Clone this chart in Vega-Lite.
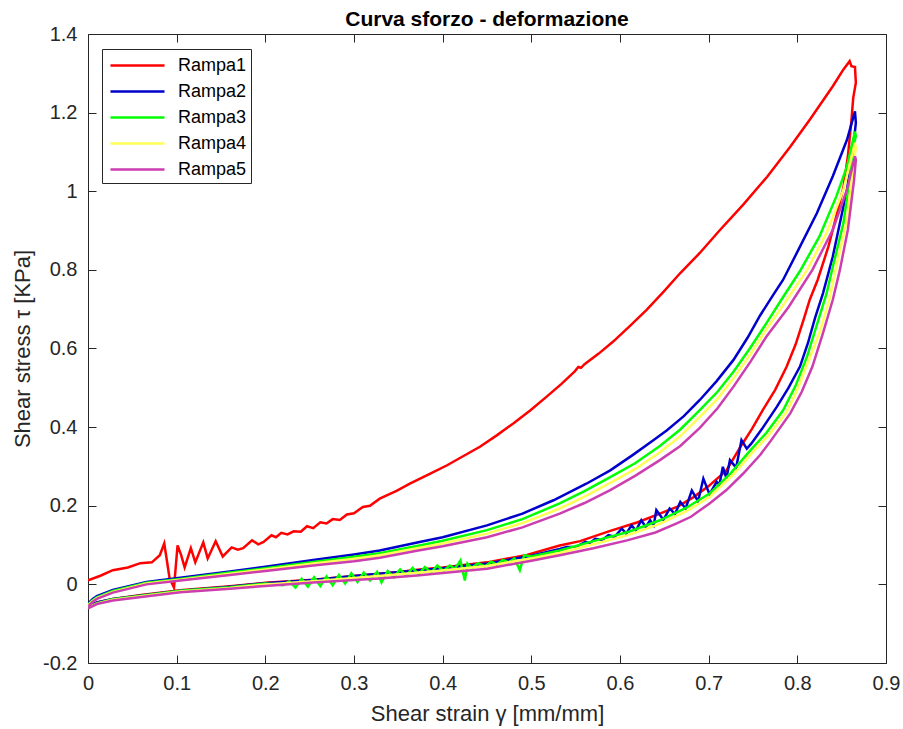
{
  "$schema": "https://vega.github.io/schema/vega-lite/v6.json",
  "width": 798,
  "height": 629,
  "autosize": {"type": "none"},
  "padding": {"left": 88, "top": 34, "right": 17, "bottom": 66},
  "background": "white",
  "title": {"text": "Curva sforzo - deformazione", "fontSize": 21, "fontWeight": "bold", "font": "Liberation Sans", "color": "#000000", "anchor": "middle", "offset": -6},
  "config": {
    "view": {"stroke": null},
    "font": "Liberation Sans",
    "axis": {"grid": false, "domainColor": "#262626", "domainWidth": 1, "tickColor": "#262626", "tickWidth": 1, "labelColor": "#262626", "titleColor": "#262626", "labelFont": "Liberation Sans", "titleFont": "Liberation Sans", "titleFontWeight": "normal"}
  },
  "datasets": {
    "d": [
      {"s":"Rampa1","x":0,"y":0.010},{"s":"Rampa1","x":0.014,"y":0.022},{"s":"Rampa1","x":0.028,"y":0.036},{"s":"Rampa1","x":0.045,"y":0.043},{"s":"Rampa1","x":0.059,"y":0.054},{"s":"Rampa1","x":0.072,"y":0.056},{"s":"Rampa1","x":0.081,"y":0.074},{"s":"Rampa1","x":0.086,"y":0.104},{"s":"Rampa1","x":0.089,"y":0.060},{"s":"Rampa1","x":0.092,"y":0.015},{"s":"Rampa1","x":0.097,"y":-0.008},{"s":"Rampa1","x":0.101,"y":0.099},{"s":"Rampa1","x":0.105,"y":0.075},{"s":"Rampa1","x":0.109,"y":0.043},{"s":"Rampa1","x":0.116,"y":0.092},{"s":"Rampa1","x":0.121,"y":0.056},{"s":"Rampa1","x":0.130,"y":0.107},{"s":"Rampa1","x":0.135,"y":0.066},{"s":"Rampa1","x":0.144,"y":0.110},{"s":"Rampa1","x":0.152,"y":0.071},{"s":"Rampa1","x":0.162,"y":0.094},{"s":"Rampa1","x":0.169,"y":0.088},{"s":"Rampa1","x":0.175,"y":0.092},{"s":"Rampa1","x":0.185,"y":0.112},{"s":"Rampa1","x":0.192,"y":0.102},{"s":"Rampa1","x":0.198,"y":0.108},{"s":"Rampa1","x":0.207,"y":0.125},{"s":"Rampa1","x":0.212,"y":0.120},{"s":"Rampa1","x":0.218,"y":0.131},{"s":"Rampa1","x":0.225,"y":0.127},{"s":"Rampa1","x":0.232,"y":0.135},{"s":"Rampa1","x":0.240,"y":0.134},{"s":"Rampa1","x":0.247,"y":0.148},{"s":"Rampa1","x":0.254,"y":0.143},{"s":"Rampa1","x":0.262,"y":0.158},{"s":"Rampa1","x":0.269,"y":0.155},{"s":"Rampa1","x":0.276,"y":0.166},{"s":"Rampa1","x":0.284,"y":0.164},{"s":"Rampa1","x":0.292,"y":0.178},{"s":"Rampa1","x":0.300,"y":0.181},{"s":"Rampa1","x":0.310,"y":0.197},{"s":"Rampa1","x":0.318,"y":0.200},{"s":"Rampa1","x":0.329,"y":0.218},{"s":"Rampa1","x":0.348,"y":0.238},{"s":"Rampa1","x":0.363,"y":0.256},{"s":"Rampa1","x":0.386,"y":0.282},{"s":"Rampa1","x":0.405,"y":0.303},{"s":"Rampa1","x":0.423,"y":0.326},{"s":"Rampa1","x":0.442,"y":0.350},{"s":"Rampa1","x":0.461,"y":0.379},{"s":"Rampa1","x":0.480,"y":0.410},{"s":"Rampa1","x":0.499,"y":0.443},{"s":"Rampa1","x":0.517,"y":0.477},{"s":"Rampa1","x":0.534,"y":0.510},{"s":"Rampa1","x":0.549,"y":0.542},{"s":"Rampa1","x":0.553,"y":0.553},{"s":"Rampa1","x":0.556,"y":0.551},{"s":"Rampa1","x":0.560,"y":0.560},{"s":"Rampa1","x":0.576,"y":0.587},{"s":"Rampa1","x":0.592,"y":0.617},{"s":"Rampa1","x":0.611,"y":0.657},{"s":"Rampa1","x":0.630,"y":0.698},{"s":"Rampa1","x":0.649,"y":0.744},{"s":"Rampa1","x":0.668,"y":0.792},{"s":"Rampa1","x":0.690,"y":0.843},{"s":"Rampa1","x":0.713,"y":0.902},{"s":"Rampa1","x":0.739,"y":0.966},{"s":"Rampa1","x":0.766,"y":1.037},{"s":"Rampa1","x":0.792,"y":1.113},{"s":"Rampa1","x":0.814,"y":1.182},{"s":"Rampa1","x":0.840,"y":1.267},{"s":"Rampa1","x":0.852,"y":1.310},{"s":"Rampa1","x":0.859,"y":1.331},{"s":"Rampa1","x":0.861,"y":1.318},{"s":"Rampa1","x":0.865,"y":1.316},{"s":"Rampa1","x":0.866,"y":1.276},{"s":"Rampa1","x":0.863,"y":1.237},{"s":"Rampa1","x":0.861,"y":1.180},{"s":"Rampa1","x":0.857,"y":1.089},{"s":"Rampa1","x":0.852,"y":1.010},{"s":"Rampa1","x":0.845,"y":0.945},{"s":"Rampa1","x":0.835,"y":0.859},{"s":"Rampa1","x":0.823,"y":0.775},{"s":"Rampa1","x":0.814,"y":0.724},{"s":"Rampa1","x":0.807,"y":0.673},{"s":"Rampa1","x":0.798,"y":0.610},{"s":"Rampa1","x":0.788,"y":0.554},{"s":"Rampa1","x":0.775,"y":0.495},{"s":"Rampa1","x":0.761,"y":0.443},{"s":"Rampa1","x":0.749,"y":0.396},{"s":"Rampa1","x":0.737,"y":0.354},{"s":"Rampa1","x":0.720,"y":0.290},{"s":"Rampa1","x":0.700,"y":0.250},{"s":"Rampa1","x":0.683,"y":0.222},{"s":"Rampa1","x":0.665,"y":0.198},{"s":"Rampa1","x":0.645,"y":0.180},{"s":"Rampa1","x":0.620,"y":0.158},{"s":"Rampa1","x":0.589,"y":0.136},{"s":"Rampa1","x":0.555,"y":0.110},{"s":"Rampa1","x":0.532,"y":0.099},{"s":"Rampa1","x":0.495,"y":0.075},{"s":"Rampa1","x":0.450,"y":0.056},{"s":"Rampa1","x":0.400,"y":0.043},{"s":"Rampa1","x":0.374,"y":0.038},{"s":"Rampa1","x":0.348,"y":0.031},{"s":"Rampa1","x":0.300,"y":0.021},{"s":"Rampa1","x":0.254,"y":0.012},{"s":"Rampa1","x":0.200,"y":0.004},{"s":"Rampa1","x":0.160,"y":-0.005},{"s":"Rampa1","x":0.104,"y":-0.015},{"s":"Rampa1","x":0.060,"y":-0.027},{"s":"Rampa1","x":0.028,"y":-0.037},{"s":"Rampa1","x":0.010,"y":-0.046},{"s":"Rampa1","x":0,"y":-0.056},

      {"s":"Rampa2","x":0,"y":-0.049},{"s":"Rampa2","x":0.005,"y":-0.038},{"s":"Rampa2","x":0.010,"y":-0.030},{"s":"Rampa2","x":0.028,"y":-0.014},{"s":"Rampa2","x":0.066,"y":0.006},{"s":"Rampa2","x":0.104,"y":0.017},{"s":"Rampa2","x":0.160,"y":0.033},{"s":"Rampa2","x":0.200,"y":0.045},{"s":"Rampa2","x":0.254,"y":0.062},{"s":"Rampa2","x":0.300,"y":0.076},{"s":"Rampa2","x":0.329,"y":0.086},{"s":"Rampa2","x":0.374,"y":0.108},{"s":"Rampa2","x":0.400,"y":0.120},{"s":"Rampa2","x":0.450,"y":0.150},{"s":"Rampa2","x":0.490,"y":0.180},{"s":"Rampa2","x":0.525,"y":0.214},{"s":"Rampa2","x":0.562,"y":0.256},{"s":"Rampa2","x":0.589,"y":0.290},{"s":"Rampa2","x":0.615,"y":0.330},{"s":"Rampa2","x":0.638,"y":0.367},{"s":"Rampa2","x":0.653,"y":0.392},{"s":"Rampa2","x":0.672,"y":0.428},{"s":"Rampa2","x":0.690,"y":0.469},{"s":"Rampa2","x":0.709,"y":0.517},{"s":"Rampa2","x":0.728,"y":0.571},{"s":"Rampa2","x":0.744,"y":0.628},{"s":"Rampa2","x":0.758,"y":0.684},{"s":"Rampa2","x":0.771,"y":0.730},{"s":"Rampa2","x":0.784,"y":0.775},{"s":"Rampa2","x":0.803,"y":0.859},{"s":"Rampa2","x":0.822,"y":0.944},{"s":"Rampa2","x":0.840,"y":1.038},{"s":"Rampa2","x":0.856,"y":1.131},{"s":"Rampa2","x":0.865,"y":1.203},{"s":"Rampa2","x":0.866,"y":1.174},{"s":"Rampa2","x":0.862,"y":1.090},{"s":"Rampa2","x":0.856,"y":1.004},{"s":"Rampa2","x":0.848,"y":0.919},{"s":"Rampa2","x":0.840,"y":0.834},{"s":"Rampa2","x":0.829,"y":0.741},{"s":"Rampa2","x":0.820,"y":0.678},{"s":"Rampa2","x":0.812,"y":0.614},{"s":"Rampa2","x":0.803,"y":0.554},{"s":"Rampa2","x":0.790,"y":0.500},{"s":"Rampa2","x":0.777,"y":0.452},{"s":"Rampa2","x":0.760,"y":0.395},{"s":"Rampa2","x":0.748,"y":0.358},{"s":"Rampa2","x":0.743,"y":0.345},{"s":"Rampa2","x":0.737,"y":0.367},{"s":"Rampa2","x":0.731,"y":0.297},{"s":"Rampa2","x":0.724,"y":0.316},{"s":"Rampa2","x":0.720,"y":0.270},{"s":"Rampa2","x":0.716,"y":0.299},{"s":"Rampa2","x":0.712,"y":0.252},{"s":"Rampa2","x":0.709,"y":0.261},{"s":"Rampa2","x":0.701,"y":0.229},{"s":"Rampa2","x":0.694,"y":0.269},{"s":"Rampa2","x":0.688,"y":0.211},{"s":"Rampa2","x":0.681,"y":0.239},{"s":"Rampa2","x":0.674,"y":0.193},{"s":"Rampa2","x":0.668,"y":0.210},{"s":"Rampa2","x":0.662,"y":0.179},{"s":"Rampa2","x":0.656,"y":0.193},{"s":"Rampa2","x":0.649,"y":0.164},{"s":"Rampa2","x":0.641,"y":0.189},{"s":"Rampa2","x":0.638,"y":0.150},{"s":"Rampa2","x":0.634,"y":0.163},{"s":"Rampa2","x":0.629,"y":0.146},{"s":"Rampa2","x":0.624,"y":0.163},{"s":"Rampa2","x":0.618,"y":0.137},{"s":"Rampa2","x":0.613,"y":0.150},{"s":"Rampa2","x":0.607,"y":0.129},{"s":"Rampa2","x":0.602,"y":0.142},{"s":"Rampa2","x":0.594,"y":0.121},{"s":"Rampa2","x":0.587,"y":0.125},{"s":"Rampa2","x":0.580,"y":0.113},{"s":"Rampa2","x":0.572,"y":0.116},{"s":"Rampa2","x":0.566,"y":0.105},{"s":"Rampa2","x":0.561,"y":0.108},{"s":"Rampa2","x":0.551,"y":0.096},{"s":"Rampa2","x":0.540,"y":0.095},{"s":"Rampa2","x":0.532,"y":0.090},{"s":"Rampa2","x":0.500,"y":0.073},{"s":"Rampa2","x":0.450,"y":0.053},{"s":"Rampa2","x":0.400,"y":0.041},{"s":"Rampa2","x":0.348,"y":0.031},{"s":"Rampa2","x":0.300,"y":0.021},{"s":"Rampa2","x":0.254,"y":0.011},{"s":"Rampa2","x":0.200,"y":0.003},{"s":"Rampa2","x":0.160,"y":-0.006},{"s":"Rampa2","x":0.104,"y":-0.016},{"s":"Rampa2","x":0.060,"y":-0.028},{"s":"Rampa2","x":0.028,"y":-0.037},{"s":"Rampa2","x":0.010,"y":-0.046},{"s":"Rampa2","x":0,"y":-0.057},

      {"s":"Rampa3","x":0,"y":-0.052},{"s":"Rampa3","x":0.005,"y":-0.041},{"s":"Rampa3","x":0.010,"y":-0.033},{"s":"Rampa3","x":0.028,"y":-0.017},{"s":"Rampa3","x":0.066,"y":0.004},{"s":"Rampa3","x":0.104,"y":0.014},{"s":"Rampa3","x":0.160,"y":0.030},{"s":"Rampa3","x":0.200,"y":0.041},{"s":"Rampa3","x":0.254,"y":0.057},{"s":"Rampa3","x":0.300,"y":0.070},{"s":"Rampa3","x":0.329,"y":0.079},{"s":"Rampa3","x":0.374,"y":0.099},{"s":"Rampa3","x":0.400,"y":0.111},{"s":"Rampa3","x":0.450,"y":0.138},{"s":"Rampa3","x":0.490,"y":0.166},{"s":"Rampa3","x":0.532,"y":0.206},{"s":"Rampa3","x":0.560,"y":0.237},{"s":"Rampa3","x":0.589,"y":0.273},{"s":"Rampa3","x":0.617,"y":0.308},{"s":"Rampa3","x":0.645,"y":0.352},{"s":"Rampa3","x":0.668,"y":0.394},{"s":"Rampa3","x":0.690,"y":0.443},{"s":"Rampa3","x":0.710,"y":0.490},{"s":"Rampa3","x":0.728,"y":0.541},{"s":"Rampa3","x":0.747,"y":0.602},{"s":"Rampa3","x":0.765,"y":0.664},{"s":"Rampa3","x":0.782,"y":0.724},{"s":"Rampa3","x":0.803,"y":0.797},{"s":"Rampa3","x":0.825,"y":0.885},{"s":"Rampa3","x":0.844,"y":0.987},{"s":"Rampa3","x":0.856,"y":1.063},{"s":"Rampa3","x":0.865,"y":1.152},{"s":"Rampa3","x":0.866,"y":1.140},{"s":"Rampa3","x":0.863,"y":1.114},{"s":"Rampa3","x":0.859,"y":1.029},{"s":"Rampa3","x":0.852,"y":0.919},{"s":"Rampa3","x":0.840,"y":0.808},{"s":"Rampa3","x":0.833,"y":0.740},{"s":"Rampa3","x":0.822,"y":0.660},{"s":"Rampa3","x":0.811,"y":0.580},{"s":"Rampa3","x":0.798,"y":0.505},{"s":"Rampa3","x":0.784,"y":0.443},{"s":"Rampa3","x":0.765,"y":0.385},{"s":"Rampa3","x":0.747,"y":0.341},{"s":"Rampa3","x":0.725,"y":0.283},{"s":"Rampa3","x":0.701,"y":0.231},{"s":"Rampa3","x":0.675,"y":0.195},{"s":"Rampa3","x":0.645,"y":0.163},{"s":"Rampa3","x":0.610,"y":0.134},{"s":"Rampa3","x":0.570,"y":0.110},{"s":"Rampa3","x":0.532,"y":0.086},{"s":"Rampa3","x":0.500,"y":0.071},{"s":"Rampa3","x":0.492,"y":0.074},{"s":"Rampa3","x":0.487,"y":0.036},{"s":"Rampa3","x":0.481,"y":0.066},{"s":"Rampa3","x":0.475,"y":0.056},{"s":"Rampa3","x":0.468,"y":0.062},{"s":"Rampa3","x":0.461,"y":0.050},{"s":"Rampa3","x":0.455,"y":0.058},{"s":"Rampa3","x":0.448,"y":0.046},{"s":"Rampa3","x":0.440,"y":0.054},{"s":"Rampa3","x":0.433,"y":0.042},{"s":"Rampa3","x":0.428,"y":0.053},{"s":"Rampa3","x":0.425,"y":0.010},{"s":"Rampa3","x":0.420,"y":0.061},{"s":"Rampa3","x":0.414,"y":0.040},{"s":"Rampa3","x":0.408,"y":0.048},{"s":"Rampa3","x":0.401,"y":0.034},{"s":"Rampa3","x":0.394,"y":0.048},{"s":"Rampa3","x":0.387,"y":0.030},{"s":"Rampa3","x":0.380,"y":0.044},{"s":"Rampa3","x":0.373,"y":0.026},{"s":"Rampa3","x":0.366,"y":0.042},{"s":"Rampa3","x":0.359,"y":0.022},{"s":"Rampa3","x":0.352,"y":0.038},{"s":"Rampa3","x":0.345,"y":0.018},{"s":"Rampa3","x":0.338,"y":0.034},{"s":"Rampa3","x":0.331,"y":0.005},{"s":"Rampa3","x":0.326,"y":0.032},{"s":"Rampa3","x":0.318,"y":0.010},{"s":"Rampa3","x":0.311,"y":0.030},{"s":"Rampa3","x":0.304,"y":0.006},{"s":"Rampa3","x":0.297,"y":0.028},{"s":"Rampa3","x":0.290,"y":0.002},{"s":"Rampa3","x":0.283,"y":0.024},{"s":"Rampa3","x":0.276,"y":-0.002},{"s":"Rampa3","x":0.269,"y":0.020},{"s":"Rampa3","x":0.262,"y":-0.004},{"s":"Rampa3","x":0.255,"y":0.018},{"s":"Rampa3","x":0.248,"y":-0.006},{"s":"Rampa3","x":0.241,"y":0.014},{"s":"Rampa3","x":0.234,"y":-0.008},{"s":"Rampa3","x":0.227,"y":0.008},{"s":"Rampa3","x":0.220,"y":-0.002},{"s":"Rampa3","x":0.200,"y":0.002},{"s":"Rampa3","x":0.160,"y":-0.007},{"s":"Rampa3","x":0.104,"y":-0.016},{"s":"Rampa3","x":0.060,"y":-0.029},{"s":"Rampa3","x":0.028,"y":-0.038},{"s":"Rampa3","x":0.010,"y":-0.048},{"s":"Rampa3","x":0,"y":-0.059},

      {"s":"Rampa4","x":0,"y":-0.054},{"s":"Rampa4","x":0.005,"y":-0.043},{"s":"Rampa4","x":0.010,"y":-0.035},{"s":"Rampa4","x":0.028,"y":-0.019},{"s":"Rampa4","x":0.066,"y":0.002},{"s":"Rampa4","x":0.104,"y":0.012},{"s":"Rampa4","x":0.160,"y":0.027},{"s":"Rampa4","x":0.200,"y":0.038},{"s":"Rampa4","x":0.254,"y":0.053},{"s":"Rampa4","x":0.300,"y":0.065},{"s":"Rampa4","x":0.329,"y":0.074},{"s":"Rampa4","x":0.374,"y":0.093},{"s":"Rampa4","x":0.400,"y":0.104},{"s":"Rampa4","x":0.450,"y":0.129},{"s":"Rampa4","x":0.490,"y":0.156},{"s":"Rampa4","x":0.532,"y":0.193},{"s":"Rampa4","x":0.560,"y":0.223},{"s":"Rampa4","x":0.589,"y":0.258},{"s":"Rampa4","x":0.617,"y":0.293},{"s":"Rampa4","x":0.645,"y":0.336},{"s":"Rampa4","x":0.668,"y":0.377},{"s":"Rampa4","x":0.690,"y":0.426},{"s":"Rampa4","x":0.710,"y":0.472},{"s":"Rampa4","x":0.728,"y":0.524},{"s":"Rampa4","x":0.747,"y":0.585},{"s":"Rampa4","x":0.765,"y":0.648},{"s":"Rampa4","x":0.790,"y":0.730},{"s":"Rampa4","x":0.811,"y":0.800},{"s":"Rampa4","x":0.833,"y":0.894},{"s":"Rampa4","x":0.852,"y":1.004},{"s":"Rampa4","x":0.865,"y":1.123},{"s":"Rampa4","x":0.866,"y":1.110},{"s":"Rampa4","x":0.862,"y":1.046},{"s":"Rampa4","x":0.856,"y":0.927},{"s":"Rampa4","x":0.844,"y":0.808},{"s":"Rampa4","x":0.836,"y":0.724},{"s":"Rampa4","x":0.825,"y":0.640},{"s":"Rampa4","x":0.812,"y":0.565},{"s":"Rampa4","x":0.800,"y":0.495},{"s":"Rampa4","x":0.788,"y":0.439},{"s":"Rampa4","x":0.768,"y":0.380},{"s":"Rampa4","x":0.750,"y":0.337},{"s":"Rampa4","x":0.728,"y":0.280},{"s":"Rampa4","x":0.701,"y":0.222},{"s":"Rampa4","x":0.675,"y":0.186},{"s":"Rampa4","x":0.645,"y":0.154},{"s":"Rampa4","x":0.610,"y":0.126},{"s":"Rampa4","x":0.570,"y":0.102},{"s":"Rampa4","x":0.532,"y":0.080},{"s":"Rampa4","x":0.500,"y":0.066},{"s":"Rampa4","x":0.450,"y":0.047},{"s":"Rampa4","x":0.400,"y":0.035},{"s":"Rampa4","x":0.348,"y":0.025},{"s":"Rampa4","x":0.300,"y":0.016},{"s":"Rampa4","x":0.254,"y":0.008},{"s":"Rampa4","x":0.200,"y":0.000},{"s":"Rampa4","x":0.160,"y":-0.009},{"s":"Rampa4","x":0.104,"y":-0.018},{"s":"Rampa4","x":0.060,"y":-0.030},{"s":"Rampa4","x":0.028,"y":-0.039},{"s":"Rampa4","x":0.010,"y":-0.049},{"s":"Rampa4","x":0,"y":-0.060},

      {"s":"Rampa5","x":0,"y":-0.056},{"s":"Rampa5","x":0.005,"y":-0.045},{"s":"Rampa5","x":0.010,"y":-0.037},{"s":"Rampa5","x":0.028,"y":-0.021},{"s":"Rampa5","x":0.066,"y":0.000},{"s":"Rampa5","x":0.104,"y":0.010},{"s":"Rampa5","x":0.160,"y":0.024},{"s":"Rampa5","x":0.200,"y":0.034},{"s":"Rampa5","x":0.254,"y":0.048},{"s":"Rampa5","x":0.300,"y":0.059},{"s":"Rampa5","x":0.329,"y":0.068},{"s":"Rampa5","x":0.374,"y":0.087},{"s":"Rampa5","x":0.400,"y":0.097},{"s":"Rampa5","x":0.450,"y":0.120},{"s":"Rampa5","x":0.490,"y":0.145},{"s":"Rampa5","x":0.532,"y":0.180},{"s":"Rampa5","x":0.560,"y":0.207},{"s":"Rampa5","x":0.589,"y":0.240},{"s":"Rampa5","x":0.617,"y":0.276},{"s":"Rampa5","x":0.645,"y":0.316},{"s":"Rampa5","x":0.668,"y":0.352},{"s":"Rampa5","x":0.690,"y":0.398},{"s":"Rampa5","x":0.710,"y":0.448},{"s":"Rampa5","x":0.728,"y":0.503},{"s":"Rampa5","x":0.747,"y":0.566},{"s":"Rampa5","x":0.765,"y":0.630},{"s":"Rampa5","x":0.790,"y":0.705},{"s":"Rampa5","x":0.817,"y":0.800},{"s":"Rampa5","x":0.840,"y":0.902},{"s":"Rampa5","x":0.856,"y":1.004},{"s":"Rampa5","x":0.865,"y":1.089},{"s":"Rampa5","x":0.866,"y":1.080},{"s":"Rampa5","x":0.864,"y":1.029},{"s":"Rampa5","x":0.857,"y":0.902},{"s":"Rampa5","x":0.848,"y":0.800},{"s":"Rampa5","x":0.840,"y":0.724},{"s":"Rampa5","x":0.829,"y":0.640},{"s":"Rampa5","x":0.817,"y":0.554},{"s":"Rampa5","x":0.805,"y":0.490},{"s":"Rampa5","x":0.792,"y":0.435},{"s":"Rampa5","x":0.770,"y":0.365},{"s":"Rampa5","x":0.758,"y":0.329},{"s":"Rampa5","x":0.739,"y":0.282},{"s":"Rampa5","x":0.720,"y":0.240},{"s":"Rampa5","x":0.701,"y":0.206},{"s":"Rampa5","x":0.680,"y":0.172},{"s":"Rampa5","x":0.664,"y":0.155},{"s":"Rampa5","x":0.640,"y":0.132},{"s":"Rampa5","x":0.608,"y":0.112},{"s":"Rampa5","x":0.570,"y":0.092},{"s":"Rampa5","x":0.532,"y":0.074},{"s":"Rampa5","x":0.500,"y":0.060},{"s":"Rampa5","x":0.450,"y":0.040},{"s":"Rampa5","x":0.400,"y":0.029},{"s":"Rampa5","x":0.374,"y":0.023},{"s":"Rampa5","x":0.329,"y":0.015},{"s":"Rampa5","x":0.300,"y":0.011},{"s":"Rampa5","x":0.254,"y":0.005},{"s":"Rampa5","x":0.200,"y":-0.004},{"s":"Rampa5","x":0.160,"y":-0.011},{"s":"Rampa5","x":0.104,"y":-0.020},{"s":"Rampa5","x":0.060,"y":-0.032},{"s":"Rampa5","x":0.028,"y":-0.041},{"s":"Rampa5","x":0.010,"y":-0.050},{"s":"Rampa5","x":0,"y":-0.061}
    ]
  },
  "data": {"name": "d"},
  "layer": [
    {
      "mark": {"type": "line", "strokeWidth": 2.5, "clip": true},
      "encoding": {
        "x": {"field": "x", "type": "quantitative", "scale": {"domain": [0, 0.9], "nice": false, "zero": false},
          "axis": {"orient": "bottom", "values": [0,0.1,0.2,0.3,0.4,0.5,0.6,0.7,0.8,0.9], "labelExpr": "replace(format(datum.value, '~g'), '\u2212', '-')", "tickSize": -8, "labelPadding": 18, "labelFontSize": 20, "title": "Shear strain γ [mm/mm]", "titleFontSize": 22, "titlePadding": 10, "labelFlush": false}},
        "y": {"field": "y", "type": "quantitative", "scale": {"domain": [-0.2, 1.4], "nice": false, "zero": false},
          "axis": {"orient": "left", "values": [-0.2,0,0.2,0.4,0.6,0.8,1,1.2,1.4], "labelExpr": "replace(format(datum.value, '~g'), '\u2212', '-')", "tickSize": -8, "labelPadding": 19, "labelFontSize": 20, "title": "Shear stress τ [KPa]", "titleFontSize": 22, "titlePadding": 8, "labelFlush": false}},
        "color": {"field": "s", "type": "nominal",
          "scale": {"domain": ["Rampa1","Rampa2","Rampa3","Rampa4","Rampa5"], "range": ["#FF0000","#0000CC","#00FF00","#FFFF55","#CC3DAF"]},
          "legend": {"title": null, "orient": "none", "legendX": 14, "legendY": 15, "symbolType": "M-2.5,0L2.5,0", "symbolSize": 467, "symbolStrokeWidth": 2.5, "symbolOffset": 19, "labelFontSize": 18, "labelColor": "#000000", "labelFont": "Liberation Sans", "labelOffset": 28, "rowPadding": 4, "padding": 4, "strokeColor": "#262626", "fillColor": "white", "cornerRadius": 0}},
        "order": {"value": null}
      }
    },
    {
      "mark": {"type": "point", "opacity": 0},
      "encoding": {
        "x": {"field": "x", "type": "quantitative", "axis": {"orient": "top", "values": [0,0.1,0.2,0.3,0.4,0.5,0.6,0.7,0.8,0.9], "labels": false, "title": null, "tickSize": -8}},
        "y": {"field": "y", "type": "quantitative", "axis": {"orient": "right", "values": [-0.2,0,0.2,0.4,0.6,0.8,1,1.2,1.4], "labels": false, "title": null, "tickSize": -8}}
      }
    }
  ],
  "resolve": {"axis": {"x": "independent", "y": "independent"}}
}
